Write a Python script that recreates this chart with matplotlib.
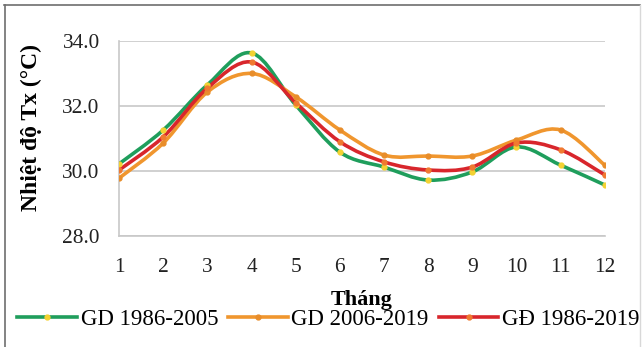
import numpy as np
import matplotlib
matplotlib.use('Agg')
import matplotlib.pyplot as plt
from matplotlib.path import Path
from matplotlib.patches import PathPatch
from matplotlib.lines import Line2D

plt.rcParams['font.family'] = ['Liberation Serif', 'DejaVu Serif']

# data
months = [1, 2, 3, 4, 5, 6, 7, 8, 9, 10, 11, 12]
tx_1986_2005 = [30.22, 31.26, 32.65, 33.63, 32.03, 30.58, 30.12, 29.72, 29.97, 30.74, 30.18, 29.57]
tx_2006_2019 = [29.78, 30.86, 32.43, 33.00, 32.28, 31.26, 30.49, 30.46, 30.46, 30.95, 31.26, 30.18]
tx_1986_2019 = [30.03, 31.05, 32.55, 33.35, 32.10, 30.90, 30.28, 30.03, 30.12, 30.86, 30.65, 29.88]
labels = ['GD 1986-2005', 'GD 2006-2019', 'GĐ 1986-2019']
yticks = [28.0, 30.0, 32.0, 34.0]

line_colors = ['#1f9e5c', '#f0962e', '#d8262c']
mark_colors = ['#f4d232', '#e88d2a', '#f07a30']


def smooth_path(x, y):
    # excel-like smoothed line: bezier segments through the data points
    p = np.column_stack([x, y]).astype(float)
    n = len(p)
    verts = [p[0]]
    codes = [Path.MOVETO]
    for i in range(n - 1):
        p0 = p[i - 1] if i > 0 else p[i]
        p3 = p[i + 2] if i + 2 < n else p[i + 1]
        c1 = p[i] + (p[i + 1] - p0) / 6.0
        c2 = p[i + 1] - (p3 - p[i]) / 6.0
        verts += [c1, c2, p[i + 1]]
        codes += [Path.CURVE4] * 3
    return Path(verts, codes)


fig = plt.figure(figsize=(6.44, 3.47), dpi=100)
# outer frame (top/left dark, right faint)
fig.add_artist(Line2D([0.006, 0.994], [0.987, 0.987], transform=fig.transFigure,
                      color='#6e6e6e', linewidth=1.2))
fig.add_artist(Line2D([0.007, 0.007], [0.0, 0.987], transform=fig.transFigure,
                      color='#6e6e6e', linewidth=1.2))
fig.add_artist(Line2D([0.994, 0.994], [0.0, 0.987], transform=fig.transFigure,
                      color='#d8d8d8', linewidth=1.0))

ax = fig.add_axes([0.185, 0.320, 0.754, 0.562])

series = [tx_1986_2005, tx_2006_2019, tx_1986_2019]
handles = []
for vals, lc, mc, lab in zip(series, line_colors, mark_colors, labels):
    ax.add_patch(PathPatch(smooth_path(months, vals), fill=False, edgecolor=lc,
                           linewidth=2.6, zorder=3))
    ax.plot(months, vals, linestyle='none', marker='o', markersize=3.5,
            markerfacecolor=mc, markeredgecolor=mc, zorder=4)
    handles.append(Line2D([], [], color=lc, linewidth=2.6, marker='o', markersize=3.5,
                          markerfacecolor=mc, markeredgecolor=mc, label=lab))

ax.set_xlim(1, 12)
ax.set_ylim(28, 34)
ax.set_xticks(months)
ax.set_yticks(yticks)
ax.set_yticklabels(['%.1f' % v for v in yticks])
ax.grid(axis='y', color='#c8c8c8', linewidth=1.2)
ax.set_axisbelow(True)
for s in ['top', 'right']:
    ax.spines[s].set_visible(False)
for s in ['left', 'bottom']:
    ax.spines[s].set_color('#c8c8c8')
    ax.spines[s].set_linewidth(1.2)
ax.tick_params(axis='both', length=0, labelsize=15.4, colors='#222222')
ax.tick_params(axis='x', pad=16)
ax.tick_params(axis='y', pad=14)

ax.set_xlabel('Tháng', fontsize=16, fontweight='bold', labelpad=9)
ax.set_ylabel('Nhiệt độ Tx (°C)', fontsize=17, fontweight='bold')
ax.yaxis.set_label_coords(-0.158, 0.555)

fig.legend(handles=handles, loc='center', bbox_to_anchor=(0.51, 0.08), ncol=3,
           frameon=False, fontsize=16.5, handlelength=2.6, handletextpad=0.17,
           columnspacing=0.43, borderaxespad=0, borderpad=0)

fig.savefig('out.png', dpi=100)
